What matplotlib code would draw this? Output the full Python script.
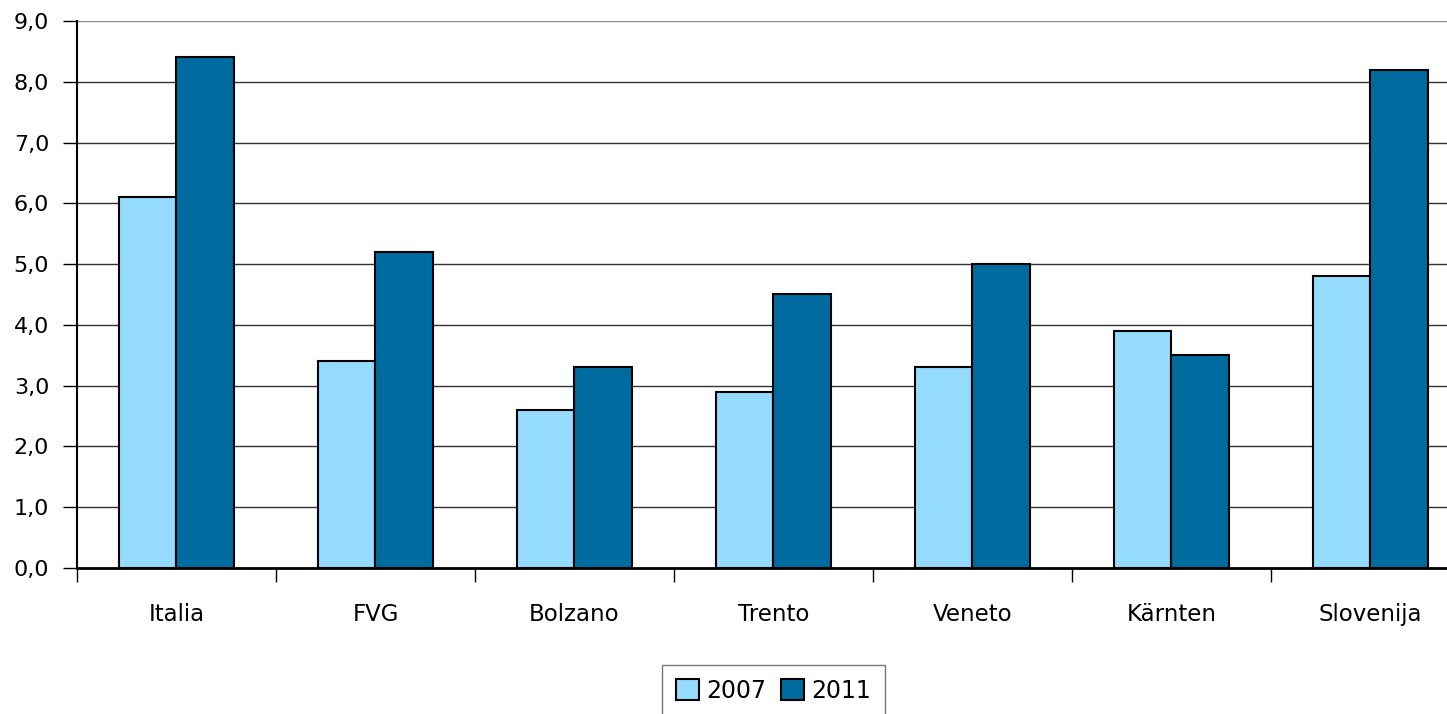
import numpy as np
import matplotlib
matplotlib.use("Agg")
import matplotlib.pyplot as plt
from matplotlib.ticker import FuncFormatter

# data
regions = ["Italia", "FVG", "Bolzano", "Trento", "Veneto", "Kärnten", "Slovenija"]
v2007 = [6.1, 3.4, 2.6, 2.9, 3.3, 3.9, 4.8]
v2011 = [8.4, 5.2, 3.3, 4.5, 5.0, 3.5, 8.2]
years = ["2007", "2011"]

c2007 = "#95DBFF"
c2011 = "#006B9F"

fig = plt.figure(figsize=(14.47, 7.14), dpi=100)
ax = fig.add_axes([77 / 1447, 1 - 568 / 714, 1393 / 1447, 547 / 714])

x = np.arange(len(regions))
w = 0.29
ax.bar(x - w / 2, v2007, w, color=c2007, edgecolor="black", linewidth=1.5, label=years[0], zorder=3)
ax.bar(x + w / 2, v2011, w, color=c2011, edgecolor="black", linewidth=1.5, label=years[1], zorder=3)

ax.set_xlim(-0.5, len(regions) - 0.5)
ax.set_ylim(0, 9)
ax.set_yticks(np.arange(0, 10, 1))
ax.yaxis.set_major_formatter(FuncFormatter(lambda v, p: f"{v:.1f}".replace(".", ",")))
ax.grid(axis="y", color="#333333", linewidth=1.0, zorder=0)
ax.get_ygridlines()[-1].set_color("#888888")

ax.set_xticks(np.arange(-0.5, len(regions), 1))
ax.set_xticklabels([])
ax.set_xticks(x, minor=True)
ax.set_xticklabels(regions, minor=True, fontsize=16.5)
ax.tick_params(axis="x", which="minor", length=0, pad=25)
ax.tick_params(axis="x", which="major", length=10, width=1, direction="out")
ax.tick_params(axis="y", length=10, width=1, labelsize=16, pad=10)

for s in ["top", "right"]:
    ax.spines[s].set_visible(False)
ax.spines["left"].set_linewidth(1.5)
ax.spines["bottom"].set_linewidth(2)

leg = ax.legend(loc="upper center", bbox_to_anchor=(0.5, -0.155), ncol=2, frameon=True,
                fancybox=False, edgecolor="#555555", fontsize=17, handlelength=1.0,
                handleheight=1.0, handletextpad=0.3, columnspacing=0.6, borderpad=0.6)
leg.get_frame().set_linewidth(1)

fig.savefig("out.png", dpi=100)
